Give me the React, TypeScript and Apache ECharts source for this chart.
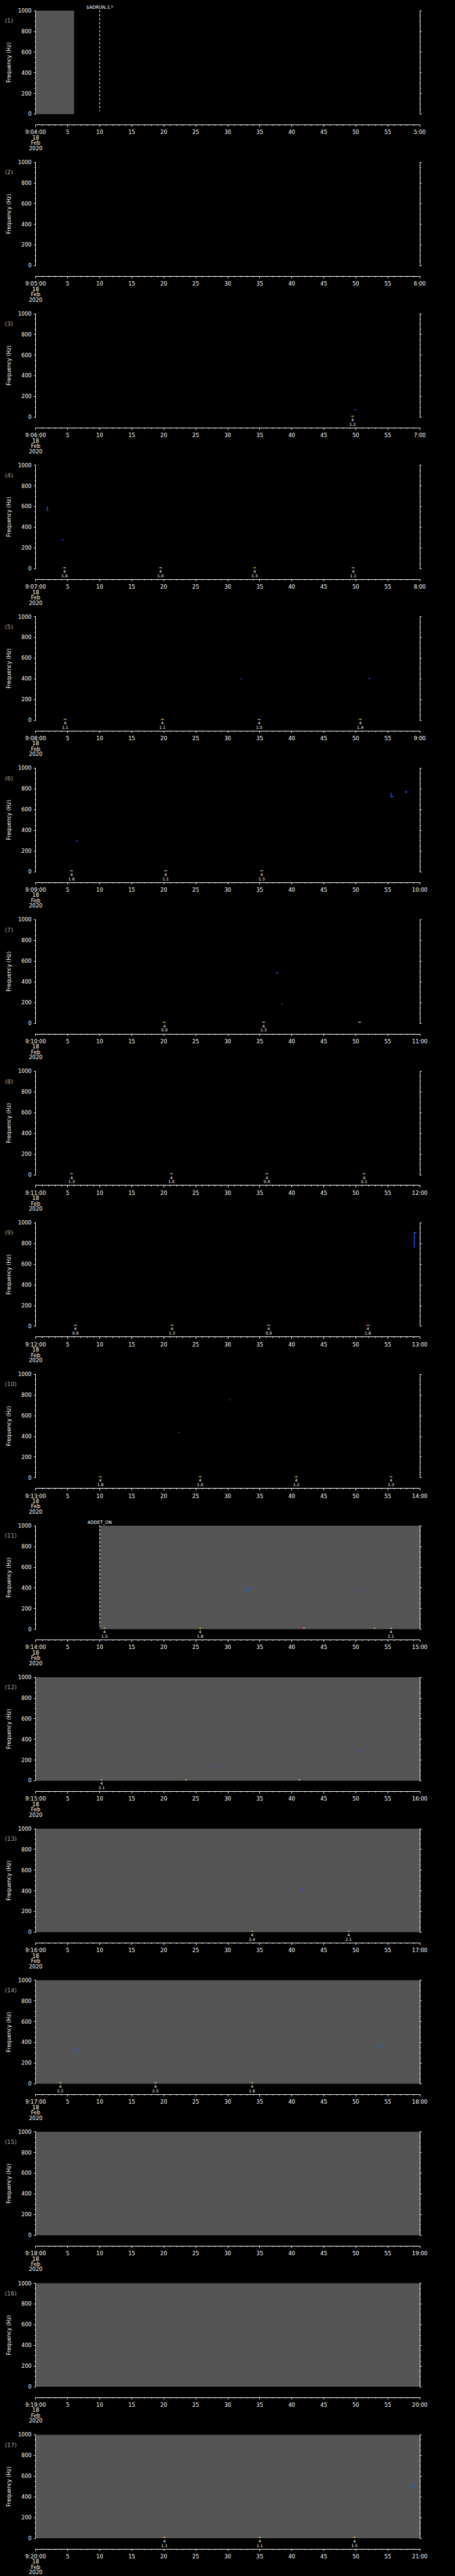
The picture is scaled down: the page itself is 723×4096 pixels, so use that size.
import React, { useEffect, useRef } from "react";
import * as echarts from "echarts";

// ---------- data ----------
const MINUTES = [4, 5, 6, 7, 8, 9, 10, 11, 12, 13, 14, 15, 16, 17, 18, 19, 20];
const HOUR = 9;
const DATE_LINES = ["18", "Feb", "2020"];

// no-data (gray) intervals: [panel, start s, end s]
const GRAY: [number, number, number][] = [
  [1, 0, 6],
  [11, 10, 60],
  [12, 0, 60],
  [13, 0, 60],
  [14, 0, 60],
  [15, 0, 60],
  [16, 0, 60],
  [17, 0, 60],
];

// command annotations: [panel, second, text]
const NOTES: [number, number, string][] = [
  [1, 10, "$ADRUN,3,*"],
  [11, 10, "ADDET_ON"],
];

// detection markers at the base: [panel, second, value label (null = no label)]
const EVENTS: [number, number, string | null][] = [
  [3, 49.5, "1.2"],
  [4, 4.5, "1.4"], [4, 19.5, "1.0"], [4, 34.2, "1.3"], [4, 49.6, "1.1"],
  [5, 4.6, "1.1"], [5, 19.8, "1.1"], [5, 34.9, "1.0"], [5, 50.7, "1.4"],
  [6, 5.6, "1.6"], [6, 20.3, "1.1"], [6, 35.3, "1.3"],
  [7, 20.1, "0.9"], [7, 35.6, "1.3"], [7, 50.6, null],
  [8, 5.6, "1.3"], [8, 21.2, "1.0"], [8, 36.1, "0.9"], [8, 51.3, "2.1"],
  [9, 6.2, "0.9"], [9, 21.3, "1.3"], [9, 36.4, "0.9"], [9, 51.9, "1.6"],
  [10, 10.1, "1.8"], [10, 25.7, "1.0"], [10, 40.7, "1.2"], [10, 55.5, "1.3"],
  [11, 10.75, "1.5"], [11, 25.7, "1.8"], [11, 41.9, null], [11, 52.9, null], [11, 55.5, "2.1"],
  [12, 10.3, "2.1"], [12, 23.5, null], [12, 41.2, null],
  [13, 33.8, "2.4"], [13, 48.9, "2.1"],
  [14, 3.85, "2.2"], [14, 18.7, "2.5"], [14, 33.8, "1.6"],
  [17, 20.1, "1.1"], [17, 35.0, "1.1"], [17, 49.8, "1.5"],
];
const EVENT_CODE = "4";

// small spectral traces: [panel, [[second, Hz], ...]]
const SPOTS: [number, [number, number][]][] = [
  [3, [[49.8, 70], [50.1, 70]]],
  [4, [[1.8, 601], [1.8, 563], [2.0, 563]]],
  [4, [[4.1, 279], [4.35, 279]]],
  [5, [[32.0, 400], [32.2, 400]]],
  [5, [[52.0, 403], [52.3, 403]]],
  [6, [[6.3, 296], [6.55, 296]]],
  [6, [[55.5, 765], [55.5, 725], [55.9, 725]]],
  [6, [[57.7, 775], [57.85, 765], [58.0, 780]]],
  [7, [[37.5, 485], [37.9, 483]]],
  [7, [[38.4, 183], [38.6, 183]]],
  [9, [[59.15, 912], [59.15, 760]]],
  [9, [[59.15, 905], [59.5, 905]]],
  [10, [[30.2, 752], [30.4, 752]]],
  [10, [[22.3, 438], [22.5, 438]]],
  [11, [[32.8, 368], [33.0, 380], [33.2, 388], [33.4, 398], [33.6, 400]]],
  [11, [[50.8, 376], [51.1, 376]]],
  [12, [[27.6, 142], [27.9, 150]]],
  [12, [[50.7, 288], [51.0, 288]]],
  [13, [[41.6, 413], [41.75, 420]]],
  [14, [[6.2, 285], [6.2, 333], [6.45, 333]]],
  [14, [[53.6, 350], [53.7, 367], [54.0, 367]]],
  [17, [[58.95, 530], [58.95, 482], [59.1, 482]]],
];

// ---------- layout (reference px, scaled) ----------
const S = 723 / 1024;
const W = 723;
const H = 4096;
const LEFT = 80.3;
const RIGHT = 944.7;
const TOP0 = 24;
const STEP = 341.2;
const PH = 233;
const FONT = "DejaVu Sans";

const pad2 = (n: number) => (n < 10 ? "0" + n : String(n));

function buildOption() {
  const grid: any[] = [];
  const xAxis: any[] = [];
  const yAxis: any[] = [];
  const series: any[] = [];
  const graphic: any[] = [];

  MINUTES.forEach((m, i) => {
    const panel = i + 1;
    const top = (TOP0 + STEP * i) * S;
    grid.push({
      left: LEFT * S,
      top,
      width: (RIGHT - LEFT) * S,
      height: PH * S,
      show: false,
    });
    xAxis.push({
      gridIndex: i,
      type: "value",
      min: 0,
      max: 60,
      interval: 5,
      position: "bottom",
      offset: 24 * S,
      axisLine: { show: true, onZero: false, lineStyle: { color: "#fff", width: 1 } },
      axisTick: { show: true, inside: false, length: 4.5 * S, lineStyle: { color: "#fff", width: 1 } },
      minorTick: { show: true, splitNumber: 5, length: 2.3 * S, lineStyle: { color: "#fff", width: 1 } },
      splitLine: { show: false },
      minorSplitLine: { show: false },
      axisLabel: {
        color: "#fff",
        fontFamily: FONT,
        fontSize: 12 * S,
        lineHeight: 12 * S,
        margin: 11 * S,
        showMinLabel: true,
        showMaxLabel: true,
        hideOverlap: false,
        formatter: (v: number) =>
          v === 0
            ? `${HOUR}:${pad2(m)}:00\n${DATE_LINES.join("\n")}`
            : v === 60
            ? `${m + 1}:00`
            : String(v),
      },
    });
    const yCommon = {
      gridIndex: i,
      type: "value",
      min: 0,
      max: 1000,
      interval: 200,
      axisLine: { show: true, onZero: false, lineStyle: { color: "#fff", width: 1 } },
      axisTick: { show: true, inside: false, length: 4 * S, lineStyle: { color: "#fff", width: 1 } },
      minorTick: { show: true, splitNumber: 4, length: 2.3 * S, lineStyle: { color: "#fff", width: 1 } },
      splitLine: { show: false },
      minorSplitLine: { show: false },
    };
    yAxis.push({
      ...yCommon,
      position: "left",
      name: "Frequency (Hz)",
      nameLocation: "middle",
      nameRotate: 90,
      nameGap: 36,
      nameTextStyle: { color: "#fff", fontFamily: FONT, fontSize: 12 * S },
      axisLabel: {
        color: "#fff",
        fontFamily: FONT,
        fontSize: 12 * S,
        margin: 6.5,
        formatter: (v: number) => String(v),
      },
    });
    yAxis.push({
      ...yCommon,
      position: "right",
      axisLabel: { show: false },
    });

    // gray no-data areas
    const grays = GRAY.filter((g) => g[0] === panel).map((g) => [g[1], g[2]]);
    if (grays.length) {
      series.push({
        type: "custom",
        xAxisIndex: i,
        yAxisIndex: 2 * i,
        silent: true,
        clip: false,
        z: 1,
        data: grays,
        renderItem: (_p: any, api: any) => {
          const a = api.coord([api.value(0), 1000]);
          const b = api.coord([api.value(1), 0]);
          return {
            type: "rect",
            shape: { x: a[0], y: a[1], width: b[0] - a[0], height: b[1] - a[1] },
            style: { fill: "#555555", stroke: null },
          };
        },
      });
    }

    // spectral traces
    const spots = SPOTS.map((s, k) => [s, k] as const)
      .filter(([s]) => s[0] === panel)
      .map(([s, k]) => [s[1][0][0], s[1][0][1], k]);
    if (spots.length) {
      series.push({
        type: "custom",
        xAxisIndex: i,
        yAxisIndex: 2 * i,
        silent: true,
        clip: false,
        z: 3,
        data: spots,
        renderItem: (_p: any, api: any) => {
          const pts = SPOTS[api.value(2)][1].map((q) => api.coord(q));
          return {
            type: "polyline",
            shape: { points: pts },
            style: { stroke: "#1a5cff", lineWidth: 1.4, fill: null },
          };
        },
      });
    }

    // detection markers
    const evs = EVENTS.map((e, k) => [e, k] as const)
      .filter(([e]) => e[0] === panel)
      .map(([e, k]) => [e[1], 0, k]);
    if (evs.length) {
      series.push({
        type: "custom",
        xAxisIndex: i,
        yAxisIndex: 2 * i,
        silent: true,
        clip: false,
        z: 4,
        data: evs,
        renderItem: (_p: any, api: any) => {
          const p = api.coord([api.value(0), api.value(1)]);
          const label = EVENTS[api.value(2)][2];
          const w = 8.5 * S;
          const children: any[] = [
            {
              type: "rect",
              shape: { x: p[0] - w / 2, y: p[1] - 3 * S, width: w, height: 1.4 },
              style: {
                fill: new echarts.graphic.LinearGradient(0, 0, 1, 0, [
                  { offset: 0, color: "#e00000" },
                  { offset: 0.35, color: "#ff8000" },
                  { offset: 0.55, color: "#ffff00" },
                  { offset: 0.75, color: "#00d0ff" },
                  { offset: 1, color: "#0000e0" },
                ]),
              },
            },
          ];
          if (label !== null) {
            children.push({
              type: "text",
              x: p[0],
              y: p[1] + 6 * S,
              style: {
                text: EVENT_CODE,
                fill: "#fff",
                font: `${9 * S}px "${FONT}"`,
                align: "center",
                verticalAlign: "middle",
                textAlign: "center",
                textVerticalAlign: "middle",
              },
            });
            children.push({
              type: "text",
              x: p[0],
              y: p[1] + 15.7 * S,
              style: {
                text: label,
                fill: "#fff",
                font: `${9 * S}px "${FONT}"`,
                align: "center",
                verticalAlign: "middle",
                textAlign: "center",
                textVerticalAlign: "middle",
              },
            });
          }
          return { type: "group", children };
        },
      });
    }

    // command notes (dashed line + text)
    const notes = NOTES.map((n, k) => [n, k] as const)
      .filter(([n]) => n[0] === panel)
      .map(([n, k]) => [n[1], 1000, k]);
    if (notes.length) {
      series.push({
        type: "custom",
        xAxisIndex: i,
        yAxisIndex: 2 * i,
        silent: true,
        clip: false,
        z: 5,
        data: notes,
        renderItem: (_p: any, api: any) => {
          const a = api.coord([api.value(0), 1005]);
          const b = api.coord([api.value(0), 28]);
          return {
            type: "group",
            children: [
              {
                type: "line",
                shape: { x1: a[0], y1: a[1], x2: b[0], y2: b[1] },
                style: { stroke: "#fff", lineWidth: 1, lineDash: [5 * S, 4 * S] },
              },
              {
                type: "text",
                x: a[0],
                y: a[1] - 7 * S,
                style: {
                  text: NOTES[api.value(2)][2],
                  fill: "#fff",
                  font: `${10 * S}px "${FONT}"`,
                  align: "center",
                  verticalAlign: "middle",
                  textAlign: "center",
                  textVerticalAlign: "middle",
                },
              },
            ],
          };
        },
      });
    }

    graphic.push({
      type: "text",
      left: 11 * S,
      top: (TOP0 + STEP * i + 16) * S,
      style: {
        text: `(${panel})`,
        fill: "#a8a8a8",
        font: `${13 * S}px "${FONT}"`,
      },
    });
  });

  return {
    animation: false,
    backgroundColor: "#000",
    grid,
    xAxis,
    yAxis,
    series,
    graphic,
  };
}

export default function App() {
  const ref = useRef<HTMLDivElement>(null);
  useEffect(() => {
    document.body.style.margin = "0";
    document.body.style.background = "#000";
    const chart = echarts.init(ref.current!, undefined, { renderer: "svg", width: W, height: H });
    chart.setOption(buildOption() as any);
    return () => chart.dispose();
  }, []);
  return <div ref={ref} style={{ width: W, height: H }} />;
}
